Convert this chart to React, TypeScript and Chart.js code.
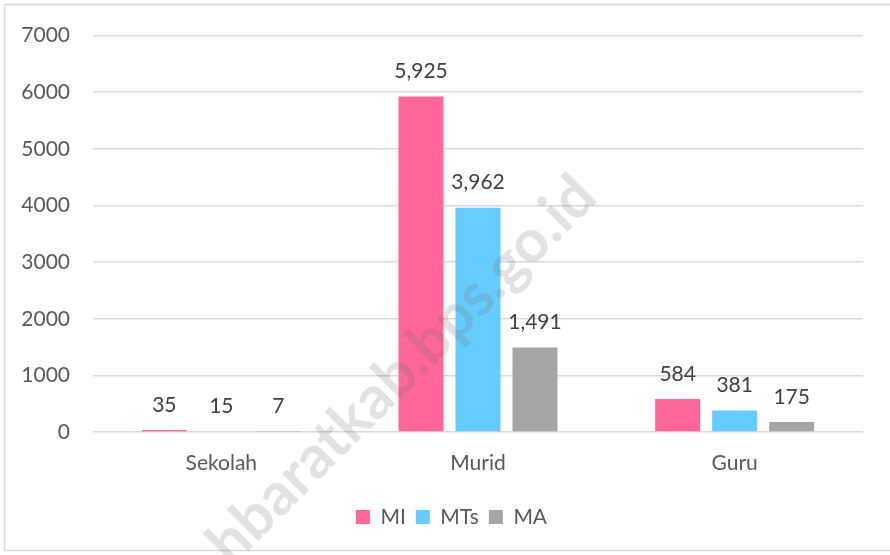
import React, { useEffect, useRef } from "react";
import { Chart, registerables } from "chart.js";

Chart.register(...registerables);

const categories = ["Sekolah", "Murid", "Guru"];
const seriesNames = ["MI", "MTs", "MA"];
const miValues = [35, 5925, 584];
const mtsValues = [15, 3962, 381];
const maValues = [7, 1491, 175];
const seriesColors = ["#FF6699", "#66CCFF", "#A5A5A5"];
const yTicks = [0, 1000, 2000, 3000, 4000, 5000, 6000, 7000];
const watermarkText = "hbaratkab.bps.go.id";

const FONT = "Lato, 'Open Sans', sans-serif";
const FS = 21;

const frameAndWatermark = {
  id: "frameAndWatermark",
  afterLayout(chart: any) {
    if (chart.legend) {
      chart.legend.left += 20;
      chart.legend.right += 20;
    }
  },
  beforeDraw(chart: any) {
    const ctx = chart.ctx;
    ctx.save();
    ctx.fillStyle = "#ffffff";
    ctx.fillRect(0, 0, chart.width, chart.height);
    ctx.strokeStyle = "#D9D9D9";
    ctx.lineWidth = 1.5;
    ctx.strokeRect(4.5, 4.5, chart.width + 20, chart.height - 9);
    ctx.restore();
  },
  afterDraw(chart: any) {
    const ctx = chart.ctx;
    ctx.save();
    ctx.font = `bold 100px ${FONT}`;
    const w100 = ctx.measureText(watermarkText).width;
    const size = (100 * 520) / w100;
    ctx.font = `bold ${size}px ${FONT}`;
    ctx.translate(402, 370);
    ctx.rotate(-Math.PI / 4);
    ctx.fillStyle = "rgba(110,110,110,0.2)";
    ctx.textAlign = "center";
    ctx.textBaseline = "middle";
    ctx.fillText(watermarkText, 0, 0);
    ctx.restore();
  },
};

const dataLabels = {
  id: "dataLabels",
  afterDatasetsDraw(chart: any) {
    const ctx = chart.ctx;
    ctx.save();
    ctx.font = `${FS}px ${FONT}`;
    ctx.fillStyle = "#404040";
    ctx.textAlign = "center";
    ctx.textBaseline = "middle";
    chart.data.datasets.forEach((ds: any, i: number) => {
      const meta = chart.getDatasetMeta(i);
      meta.data.forEach((bar: any, j: number) => {
        const v = ds.data[j];
        ctx.fillText(v.toLocaleString("en-US"), bar.x, bar.y - 25);
      });
    });
    ctx.restore();
  },
};

export default function App() {
  const ref = useRef<HTMLCanvasElement | null>(null);
  useEffect(() => {
    if (!ref.current) return;
    const values = [miValues, mtsValues, maValues];
    const chart = new Chart(ref.current, {
      type: "bar",
      data: {
        labels: categories,
        datasets: seriesNames.map((name, i) => ({
          label: name,
          data: values[i],
          backgroundColor: seriesColors[i],
          categoryPercentage: 0.666,
          barPercentage: 0.79,
        })),
      },
      options: {
        responsive: false,
        animation: false,
        layout: { padding: { top: 33, right: 27, bottom: 17.5, left: 0 } },
        plugins: {
          legend: {
            position: "bottom",
            labels: {
              boxWidth: 14,
              boxHeight: 14,
              padding: 10,
              color: "#595959",
              font: { family: FONT, size: FS },
            },
          },
          tooltip: { enabled: false },
        },
        scales: {
          x: {
            grid: { display: false, drawTicks: false },
            border: { display: false },
            ticks: { color: "#595959", font: { family: FONT, size: FS }, padding: 19 },
            afterFit(scale: any) {
              scale.height = 64.5;
            },
          },
          y: {
            min: 0,
            max: 7000,
            afterBuildTicks(scale: any) {
              scale.ticks = yTicks.map((v) => ({ value: v }));
            },
            grid: { color: "#D9D9D9", lineWidth: 1.5, drawTicks: false },
            border: { display: false },
            ticks: {
              color: "#595959",
              font: { family: FONT, size: FS },
              padding: 23,
              callback: (v: any) => String(v),
            },
            afterFit(scale: any) {
              scale.width = 93;
            },
          },
        },
      },
      plugins: [frameAndWatermark, dataLabels],
    });
    return () => chart.destroy();
  }, []);
  return (
    <div style={{ position: "fixed", left: 0, top: 0, width: 890, height: 555 }}>
      <canvas ref={ref} width={890} height={555} style={{ display: "block" }} />
    </div>
  );
}
